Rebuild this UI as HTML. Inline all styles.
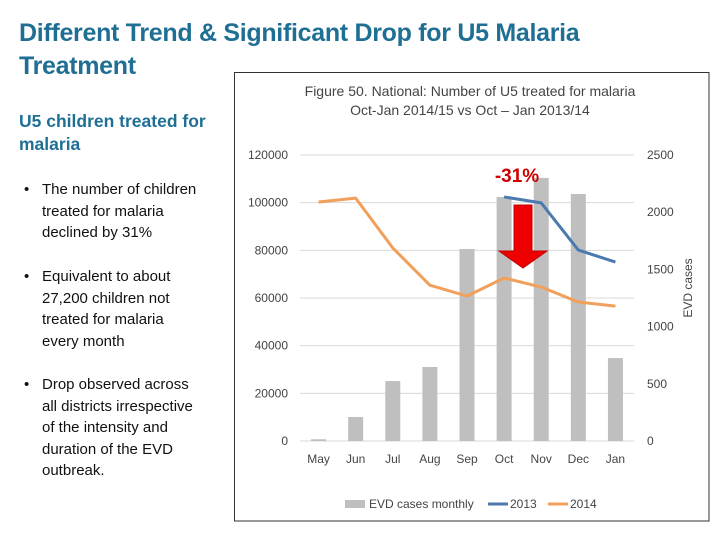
<!DOCTYPE html>
<html><head><meta charset="utf-8">
<style>
body{margin:0;width:720px;height:540px;background:#fff;font-family:"Liberation Sans",sans-serif;position:relative;overflow:hidden}
.t{position:absolute;color:#1f6f95;font-weight:bold;font-size:25px;line-height:33px;left:19px;top:17px;letter-spacing:-0.3px}
.h{position:absolute;color:#1f6f95;font-weight:bold;font-size:17.5px;line-height:23px;left:19px;top:110px}
ul{position:absolute;left:19px;margin:0;padding:0;list-style:none;font-size:15px;line-height:21.5px;color:#111;white-space:nowrap}
li{position:relative;padding-left:23px}
li:before{content:"•";position:absolute;left:5px}
</style></head><body>
<div class="t">Different Trend &amp; Significant Drop for U5 Malaria<br>Treatment</div>
<div class="h">U5 children treated for<br>malaria</div>
<ul style="top:179px">
<li>The number of children<br>treated for malaria<br>declined by 31%</li></ul>
<ul style="top:266px">
<li>Equivalent to about<br>27,200 children not<br>treated for malaria<br>every month</li></ul>
<ul style="top:374px">
<li>Drop observed across<br>all districts irrespective<br>of the intensity and<br>duration of the EVD<br>outbreak.</li></ul>
<svg id="c" width="720" height="540" style="position:absolute;left:0;top:0" font-family="Liberation Sans, sans-serif"></svg>
<script>
const categories=["May","Jun","Jul","Aug","Sep","Oct","Nov","Dec","Jan"];
const evdCases=[15,210,524,647,1678,2133,2300,2159,725];
const treated2014=[100300,101900,81000,65400,60800,68400,64600,58300,56600];
const treated2013=[null,null,null,null,null,102400,99900,80100,75100];
const leftTicks=[0,20000,40000,60000,80000,100000,120000];
const rightTicks=[0,500,1000,1500,2000,2500];
const svg=document.getElementById('c');
const NS="http://www.w3.org/2000/svg";
function mk(t,a,txt){const e=document.createElementNS(NS,t);for(const k in a)e.setAttribute(k,a[k]);if(txt!=null)e.textContent=txt;svg.appendChild(e);return e;}
const x0=300,x1=634,yb=441,yt=155;
const step=(x1-x0)/categories.length;
const xc=i=>x0+step*(i+0.5);
const yL=v=>yb-(v/120000)*(yb-yt);
const yR=v=>yb-(v/2500)*(yb-yt);
let e=mk('rect',{x:234.5,y:72.5,width:474.5,height:448.5,fill:'none',stroke:'#333','stroke-width':1});

e=mk('text',{x:470,y:96,'text-anchor':'middle','font-size':14,fill:'#444'},'Figure 50. National: Number of U5 treated for malaria');

e=mk('text',{x:470,y:115,'text-anchor':'middle','font-size':14,fill:'#444'},'Oct-Jan 2014/15 vs Oct – Jan 2013/14');

leftTicks.forEach(v=>{
 e=mk('line',{x1:x0,x2:x1,y1:yL(v),y2:yL(v),stroke:'#d9d9d9'});
 
 e=mk('text',{x:288,y:yL(v)+4,'text-anchor':'end','font-size':12,fill:'#444'},v);
 
});
rightTicks.forEach(v=>{
 e=mk('text',{x:647,y:yR(v)+4,'font-size':12,fill:'#444'},v);
 
});
e=mk('text',{x:0,y:0,'font-size':12,fill:'#444','text-anchor':'middle',transform:'translate(692,288) rotate(-90)'},'EVD cases');

categories.forEach((c,i)=>{
 e=mk('rect',{x:xc(i)-7.5,y:yR(evdCases[i]),width:15,height:yb-yR(evdCases[i]),fill:'#bfbfbf'});
 
 e=mk('text',{x:xc(i),y:463,'text-anchor':'middle','font-size':12,fill:'#444'},c);
 
});
function line(arr,col,name){
 const p=[];arr.forEach((v,i)=>{if(v!=null)p.push(xc(i)+','+yL(v));});
 const l=mk('polyline',{points:p.join(' '),fill:'none',stroke:col,'stroke-width':3,'stroke-linejoin':'round'});
 
}
line(treated2014,'#f0a05a','line-2014');
line(treated2013,'#4a7ab0','line-2013');
e=mk('polygon',{points:'514,205 532,205 532,251 547,251 523,268 499,251 514,251',fill:'#ee0000',stroke:'#c00000'});

e=mk('text',{x:517,y:182,'text-anchor':'middle','font-size':19,'font-weight':'bold',fill:'#d00000'},'-31%');

e=mk('rect',{x:345,y:500,width:20,height:8,fill:'#bfbfbf'});

e=mk('text',{x:369,y:508,'font-size':12,fill:'#444'},'EVD cases monthly');

e=mk('line',{x1:488,x2:508,y1:504,y2:504,stroke:'#4a7ab0','stroke-width':3});

e=mk('text',{x:510,y:508,'font-size':12,fill:'#444'},'2013');

e=mk('line',{x1:548,x2:568,y1:504,y2:504,stroke:'#f0a05a','stroke-width':3});

e=mk('text',{x:570,y:508,'font-size':12,fill:'#444'},'2014');

</script>
</body></html>
